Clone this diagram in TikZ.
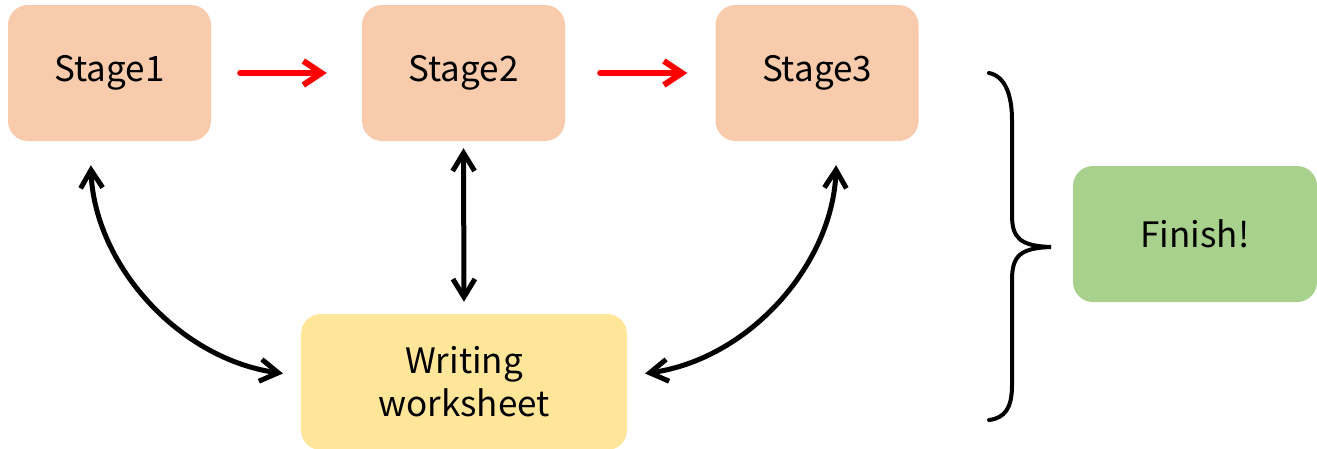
\documentclass[tikz,border=0pt]{standalone}
\usepackage{fontspec}
\setmainfont{Noto Sans CJK SC}
\usetikzlibrary{arrows.meta}
\definecolor{peach}{HTML}{F8CBAD}
\definecolor{sand}{HTML}{FFE699}
\definecolor{leaf}{HTML}{A9D18E}
\definecolor{arrred}{HTML}{FF0000}
\begin{document}
\begin{tikzpicture}[x=1pt,y=1pt,
  box/.style={rounded corners=20pt, inner sep=0pt, align=center,
    font=\fontsize{35}{43}\selectfont},
  stagebox/.style={box, fill=peach, minimum width=203pt, minimum height=136pt},
  redarrow/.style={draw=arrred, line width=6pt, -{Straight Barb[length=18pt,width=24pt]}, line cap=round},
  blackarrow/.style={draw=black, line width=5pt, {Straight Barb[length=18pt,width=22pt]}-{Straight Barb[length=18pt,width=22pt]}, line cap=round},
  bracestyle/.style={draw=black, line width=4pt, line cap=round}]
\useasboundingbox (0,0) rectangle (1317,-448);
\node[stagebox] (s1) at (109.5,-73) {\raisebox{-2pt}{Stage1}};
\node[stagebox] (s2) at (463.5,-73) {\raisebox{-2pt}{Stage2}};
\node[stagebox] (s3) at (817,-73) {\raisebox{-2pt}{Stage3}};
\node[box, fill=sand, minimum width=326pt, minimum height=136pt] (w) at (464,-382) {Writing\\worksheet};
\node[box, fill=leaf, minimum width=244pt, minimum height=136pt] (f) at (1195,-234) {Finish!};
\draw[redarrow, shorten <=29pt, shorten >=35pt] (s1.east) -- (s2.west);
\draw[redarrow, shorten <=35pt, shorten >=28pt] (s2.east) -- (s3.west);
\draw[blackarrow, shorten <=7pt, shorten >=12pt] (s2.south) -- (w.north);
\draw[blackarrow, shorten <=24pt, shorten >=18pt] ([xshift=-19.5pt]s1.south) to[out=-88, in=172] ([yshift=6pt]w.west);
\draw[blackarrow, shorten <=24pt, shorten >=18pt] ([xshift=20pt]s3.south) to[out=-92, in=8] ([yshift=6pt]w.east);
\coordinate (bt) at (1051,-247);
\draw[bracestyle] (989,-73) .. controls (1005,-76) and (1012,-95) .. (1012,-120) -- (1012,-215)
  .. controls (1012,-238) and (1020,-246) .. (bt)
  .. controls (1020,-248) and (1012,-256) .. (1012,-280) -- (1012,-385)
  .. controls (1012,-408) and (1005,-418) .. (989,-420);
\end{tikzpicture}
\end{document}
